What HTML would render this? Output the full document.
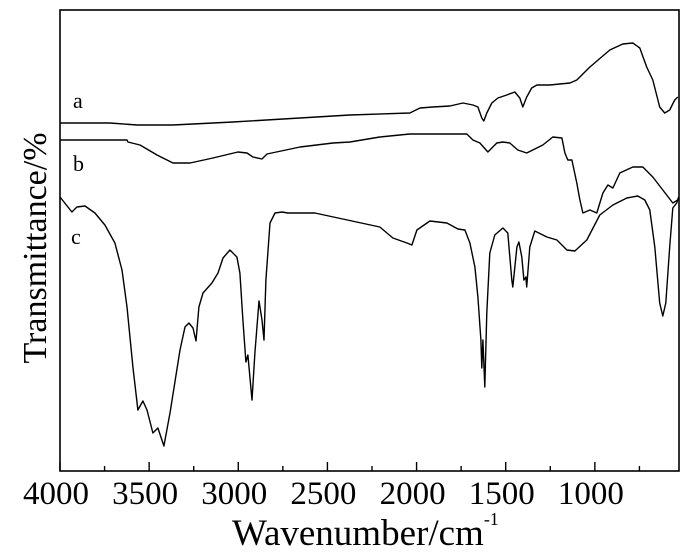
<!DOCTYPE html>
<html><head><meta charset="utf-8"><style>
html,body{margin:0;padding:0;background:#fff;}
svg{display:block;font-family:"Liberation Serif",serif;}
</style></head><body>
<svg id="chart" width="700" height="558" viewBox="0 0 700 558" xmlns="http://www.w3.org/2000/svg">
<g id="plot"></g>
<rect x="60" y="10" width="619" height="461" fill="none" stroke="#000" stroke-width="1.6"/>
<g id="xticks"></g>
<text x="232" y="545" font-size="37">Wavenumber/cm<tspan font-size="18" dy="-20">-1</tspan></text>
<text transform="translate(46,248) rotate(-90)" font-size="34" text-anchor="middle">Transmittance/%</text>
<text x="73" y="108" font-size="22">a</text>
<text x="73" y="171" font-size="22">b</text>
<text x="71" y="244" font-size="22">c</text>
</svg>
<script>
const xTicks = [4000, 3500, 3000, 2500, 2000, 1500, 1000];
const xMinor = [3750, 3250, 2750, 2250, 1750, 1250, 750];
const wnA = [4000,3871,3720,3568,3366,3030,2374,2038,1981,1909,1813,1740,1684,1656,1634,1623,1606,1578,1544,1494,1449,1421,1404,1382,1354,1325,1253,1140,1101,1028,916,843,787,748,709,675,636,608,580,552,535];
const tA = [348,348,348,346,346,349,356,358,363,364,365,368,366,364,353,350,358,368,373,376,379,373,364,374,383,386,386,388,391,404,421,427,428,423,404,391,364,358,361,371,374];
const wnB = [4000,3624,3619,3551,3456,3366,3271,3142,3002,2951,2918,2867,2839,2654,2469,2374,2206,2038,1718,1684,1645,1600,1550,1516,1477,1432,1382,1348,1292,1236,1185,1168,1152,1129,1101,1084,1067,1028,989,955,927,899,860,787,731,675,619,563,535];
const tB = [331,331,329,326,316,308,308,313,319,318,314,312,317,324,328,329,334,337,337,331,328,319,328,329,328,321,318,321,326,334,333,318,311,311,288,271,258,261,258,278,286,283,298,304,304,294,281,268,271];
const wnC = [4000,3933,3905,3860,3804,3748,3692,3652,3624,3591,3563,3535,3512,3479,3451,3417,3383,3327,3299,3277,3254,3237,3221,3198,3148,3114,3086,3047,3008,2991,2974,2957,2946,2923,2907,2884,2867,2856,2845,2822,2794,2755,2722,2570,2206,2133,2054,2026,1998,1925,1830,1768,1729,1701,1673,1656,1639,1634,1628,1617,1606,1589,1561,1516,1488,1466,1460,1437,1426,1410,1398,1387,1382,1365,1337,1269,1213,1157,1112,1045,972,899,821,759,720,692,664,636,619,602,580,563,541,530];
const tC = [274,259,264,265,258,246,228,201,164,104,61,70,61,38,43,25,58,121,144,148,143,130,164,178,188,198,213,221,214,198,151,109,116,71,118,170,151,131,191,248,258,259,258,258,244,233,228,226,241,250,248,242,241,228,204,174,131,103,131,84,158,218,236,243,238,191,184,224,229,214,191,194,184,224,240,234,231,221,220,231,256,266,273,275,271,261,224,168,155,168,224,263,268,274];

const X0 = 60, X1 = 679, Y0 = 10, Y1 = 471;
const WN_MAX = 4000, WN_MIN = 528, T_MAX = 461;
function xScale(w){ return X0 + (WN_MAX - w) / (WN_MAX - WN_MIN) * (X1 - X0); }
function yScale(t){ return Y1 - t / T_MAX * (Y1 - Y0); }
const NS = "http://www.w3.org/2000/svg";
const plot = document.getElementById('plot');
function drawSeries(wn, t, name){
  let d = '';
  for (let i = 0; i < wn.length; i++) d += (i ? 'L' : 'M') + xScale(wn[i]).toFixed(1) + ',' + yScale(t[i]).toFixed(1);
  const p = document.createElementNS(NS, 'path');
  p.setAttribute('d', d);
  p.setAttribute('fill', 'none');
  p.setAttribute('stroke', '#000');
  p.setAttribute('stroke-width', '1.4');
  p.setAttribute('stroke-linejoin', 'round');
  
  
  plot.appendChild(p);
}
drawSeries(wnA, tA, 'spectrum-a');
drawSeries(wnB, tB, 'spectrum-b');
drawSeries(wnC, tC, 'spectrum-c');

const xt = document.getElementById('xticks');
xTicks.forEach(v => {
  const x = xScale(v);
  const l = document.createElementNS(NS, 'line');
  l.setAttribute('x1', x); l.setAttribute('x2', x);
  l.setAttribute('y1', Y1); l.setAttribute('y2', Y1 - 9);
  l.setAttribute('stroke', '#000'); l.setAttribute('stroke-width', '1.4');
  
  
  xt.appendChild(l);
  const tx = document.createElementNS(NS, 'text');
  tx.setAttribute('x', x - 4); tx.setAttribute('y', 504);
  tx.setAttribute('font-size', '33'); tx.setAttribute('text-anchor', 'middle');
  tx.textContent = v;
  
  
  xt.appendChild(tx);
});
xMinor.forEach(v => {
  const x = xScale(v);
  const l = document.createElementNS(NS, 'line');
  l.setAttribute('x1', x); l.setAttribute('x2', x);
  l.setAttribute('y1', Y1); l.setAttribute('y2', Y1 - 5);
  l.setAttribute('stroke', '#000'); l.setAttribute('stroke-width', '1.4');
  
  
  xt.appendChild(l);
});
</script>
</body></html>
